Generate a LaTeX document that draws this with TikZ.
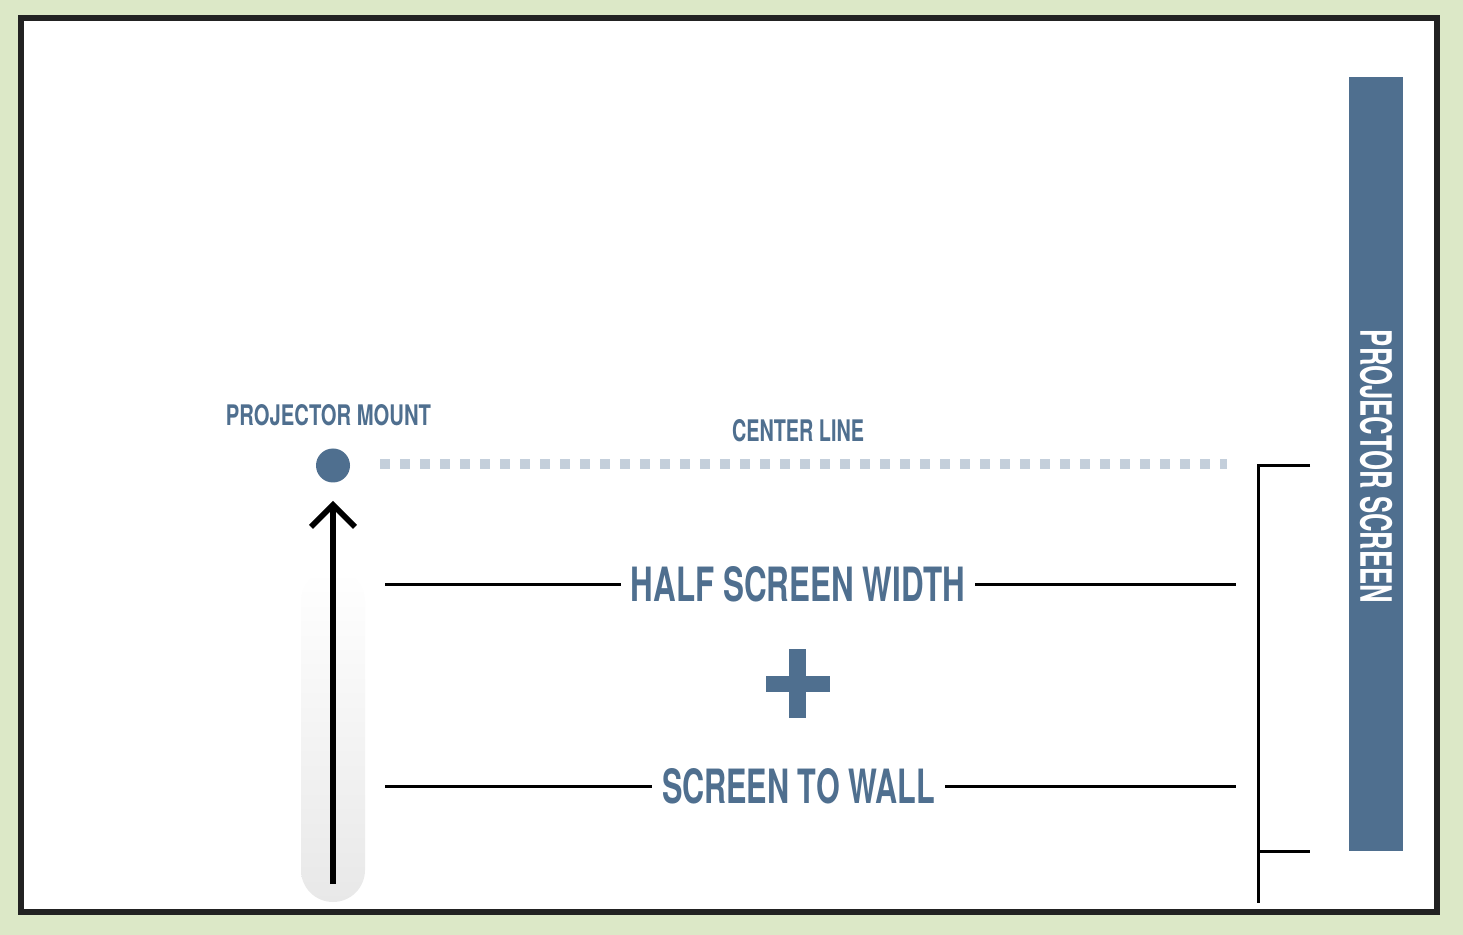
\documentclass[tikz,border=0pt]{standalone}
\usepackage{fontspec}
\usepackage{graphicx}
\setmainfont{TeX Gyre Heros}
\usetikzlibrary{arrows.meta}
\definecolor{bggreen}{RGB}{220,232,199}
\definecolor{steel}{RGB}{79,111,143}
\definecolor{dotgrey}{RGB}{196,207,219}
\definecolor{frameblack}{RGB}{34,34,34}
\newcommand{\fitlbl}[3]{\resizebox{#1}{#2}{\bfseries #3}}
\tikzset{
  lbl/.style={inner sep=0pt, inner xsep=5pt, text=steel},
  meas/.style={line width=1.5pt, draw=black},
  brk/.style={line width=1.5pt, draw=black},
  mountdot/.style={circle, fill=steel, minimum size=17pt, inner sep=0pt},
  upar/.style={line width=3pt, draw=black, -{Straight Barb[length=11pt,width=22pt,line width=2.8pt]}, shorten >=9pt},
  cline/.style={line width=5pt, draw=dotgrey, dash pattern=on 5pt off 5pt}
}
\begin{document}
\begin{tikzpicture}[x=0.5pt,y=-0.5pt]
\useasboundingbox (0,0) rectangle (1463,935);
\fill[bggreen] (0,0) rectangle (1463,935);
\fill[white] (20.5,18.5) rectangle (1437,911.5);
\draw[frameblack, line width=3pt] (20.5,18.5) rectangle (1437,911.5);

% screen
\fill[steel] (1349,77) rectangle (1403,851);
\node[rotate=-90, inner sep=0pt, text=white] (scr) at (1376,466.5) {\fitlbl{136.5pt}{16pt}{PROJECTOR SCREEN}};

% bracket
\coordinate (bt) at (1310,466);
\coordinate (bc) at (1258,466);
\coordinate (bb) at (1258,903);
\coordinate (bm) at (1258,851);
\coordinate (bme) at (1310,851);
\draw[brk] (bt) -- (bc) -- (bb);
\draw[brk] (bm) -- (bme);

% projector mount
\node[mountdot] (mount) at (333,465.5) {};
\node[lbl, inner xsep=0pt] (mountlbl) at (328.5,415) {\fitlbl{102.5pt}{10.5pt}{PROJECTOR MOUNT}};

% center line
\coordinate (cl1) at (380,464);
\coordinate (cl2) at (1227,464);
\draw[cline] (cl1) -- (cl2);
\node[lbl, inner xsep=0pt] (cllbl) at (798,431) {\fitlbl{66pt}{11pt}{CENTER LINE}};

% gradient bar and arrow
\shade[top color=white, bottom color=black!9, rounded corners=16pt] (301,570) rectangle (365,902);
\coordinate (abase) at (333,884);
\draw[upar] (abase) -- (mount);

% half screen width
\node[lbl] (hsw) at (798,584.5) {\fitlbl{167pt}{17.5pt}{HALF SCREEN WIDTH}};
\coordinate (hswL) at (385,584.5);
\coordinate (hswR) at (1236,584.5);
\draw[meas] (hswL) -- (hsw);
\draw[meas] (hsw) -- (hswR);

% plus
\node[fill=steel, minimum width=32pt, minimum height=8pt, inner sep=0pt] (plush) at (798,684) {};
\node[fill=steel, minimum width=8.5pt, minimum height=34.5pt, inner sep=0pt] (plusv) at (797.5,683.5) {};

% screen to wall
\node[lbl] (stw) at (798.5,786.5) {\fitlbl{136.5pt}{17.5pt}{SCREEN TO WALL}};
\coordinate (stwL) at (385,786.5);
\coordinate (stwR) at (1236,786.5);
\draw[meas] (stwL) -- (stw);
\draw[meas] (stw) -- (stwR);
\end{tikzpicture}
\end{document}
